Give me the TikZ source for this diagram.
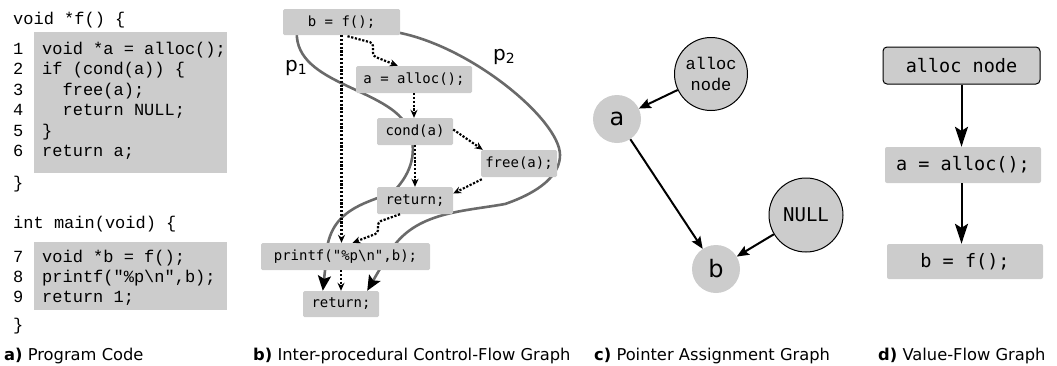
\documentclass[tikz,border=0pt]{standalone}
\usepackage{fontspec}
\setmainfont{DejaVu Sans}
\newfontfamily\codefont{Liberation Mono}
\newfontfamily\cfgmono{DejaVu Sans Mono}
\usetikzlibrary{arrows.meta,calc}
\pgfdeclarelayer{background}
\pgfsetlayers{background,main}
\definecolor{boxgray}{HTML}{CCCCCC}
\definecolor{pathgray}{HTML}{6A6A6A}
\begin{document}
\begin{tikzpicture}[x=1pt,y=-1pt,
  codeline/.style={anchor=base west, inner sep=0pt, font=\codefont\fontsize{17}{20}\selectfont},
  codebox/.style={fill=boxgray, draw=none, inner sep=0pt, anchor=north west},
  cfgbox/.style={fill=boxgray, rounded corners=1.5pt, inner sep=0pt, minimum height=27pt, font=\cfgmono\fontsize{14}{16}\selectfont},
  vfbox/.style={fill=boxgray, rounded corners=2pt, inner sep=0pt, minimum width=156pt, minimum height=36pt, font=\cfgmono\fontsize{18.5}{20}\selectfont},
  caption/.style={anchor=base west, inner sep=0pt, font=\fontsize{16.3}{18}\selectfont},
  dotarrow/.style={line width=2.2pt, dash pattern=on 2.2pt off 1.6pt, rounded corners=3pt, -{Stealth[length=8pt,width=7pt]}},
  pathcurve/.style={draw=pathgray, line width=2.6pt, -{Stealth[length=15pt,width=13pt,inset=3pt,color=black]}},
  pagcircle/.style={circle, fill=boxgray, inner sep=0pt},
  pagarrow/.style={line width=2pt, -{Stealth[length=12pt,width=10pt,inset=2pt]}},
  vfarrow/.style={line width=2pt, -{Stealth[length=20pt,width=13pt,inset=4pt]}},
  plabel/.style={anchor=base west, inner sep=0pt, font=\fontsize{20}{22}\selectfont}
]
\useasboundingbox (0,0) rectangle (1057,365);

% ---------- a) Program code ----------
\node[codebox, minimum width=193pt, minimum height=141pt] (fbody) at (34,32) {};
\node[codebox, minimum width=193pt, minimum height=68pt] (mbody) at (34,242) {};
\node[codeline] (fhead) at (13,24) {void *f() \{};
\node[codeline] (n1) at (13,54) {1};
\node[codeline] (l1) at (42,54) {void *a = alloc();};
\node[codeline] (n2) at (13,74.5) {2};
\node[codeline] (l2) at (42,74.5) {if (cond(a)) \{};
\node[codeline] (n3) at (13,95) {3};
\node[codeline] (l3) at (42,95) {\phantom{xx}free(a);};
\node[codeline] (n4) at (13,115.5) {4};
\node[codeline] (l4) at (42,115.5) {\phantom{xx}return NULL;};
\node[codeline] (n5) at (13,136) {5};
\node[codeline] (l5) at (42,136) {\}};
\node[codeline] (n6) at (13,156.5) {6};
\node[codeline] (l6) at (42,156.5) {return a;};
\node[codeline] (fend) at (13,188) {\}};
\node[codeline] (mhead) at (13,228) {int main(void) \{};
\node[codeline] (n7) at (13,262) {7};
\node[codeline] (l7) at (42,262) {void *b = f();};
\node[codeline] (n8) at (13,282) {8};
\node[codeline] (l8) at (42,282) {printf("\%p\textbackslash n",b);};
\node[codeline] (n9) at (13,302) {9};
\node[codeline] (l9) at (42,302) {return 1;};
\node[codeline] (mend) at (13,330) {\}};
\node[caption] (capa) at (4,360) {\textbf{a)} Program Code};

% ---------- b) ICFG ----------
\node[cfgbox, minimum width=117pt, minimum height=26pt] (bf) at (341.5,22) {b = f();};
\node[cfgbox, minimum width=116pt] (al) at (414,79.5) {a = alloc();};
\node[cfgbox, minimum width=76pt] (cd) at (415,131.5) {cond(a)};
\node[cfgbox, minimum width=76pt] (fr) at (519,163.5) {free(a);};
\node[cfgbox, minimum width=76pt] (r1) at (415,200.5) {return;};
\node[cfgbox, minimum width=169pt] (pf) at (345.5,256.5) {printf("\%p\textbackslash n",b);};
\node[cfgbox, minimum width=76pt, minimum height=26pt] (r2) at (341,304) {return;};

\begin{pgfonlayer}{background}
\draw[pathcurve] ($(bf.south west)+(14,-3)$)
   .. controls (295,85) and (390,88) .. (408,128)
   .. controls (418,150) and (412,172) .. (395,190)
   .. controls (380,201) and (337,203) .. (328,243)
   -- ($(r2.north west)+(20,0)$);
\draw[pathcurve] ($(bf.east)+(-5,10)$)
   .. controls (470,45) and (560,120) .. (560,155)
   .. controls (560,175) and (540,192) .. (505,204)
   .. controls (460,212) and (412,212) .. (388,255)
   -- ($(r2.north east)+(-12,0)$);
\end{pgfonlayer}

\draw[dotarrow] (bf.south) -- (bf.south |- pf.north);
\draw[dotarrow] ($(bf.south)+(6,1)$) -- (373,43) -- (373,56) -- ($(al.north west)+(42,0)$);
\draw[dotarrow] (al.south) -- (al.south |- cd.north);
\draw[dotarrow] ($(cd.east)+(0,-2)$) -- ($(fr.north west)+(2,0)$);
\draw[dotarrow] (cd.south) -- (r1.north);
\draw[dotarrow] ($(fr.south west)+(1,2)$) -- ($(r1.east)+(0,-7)$);
\draw[dotarrow] ($(r1.south)+(-15,0)$) -- (378,222) -- (378,233) -- ($(pf.north)+(7,0)$);
\draw[dotarrow] (r2.north |- pf.south) -- (r2.north);

\node[plabel] (p1) at (285,71) {p\textsubscript{1}};
\node[plabel] (p2) at (493,60) {p\textsubscript{2}};
\node[caption] (capb) at (253,360) {\textbf{b)} Inter-procedural Control-Flow Graph};

% ---------- c) Pointer assignment graph ----------
\node[pagcircle, draw=black, line width=1pt, minimum size=73pt, align=center,
      font=\codefont\fontsize{17}{21.5}\selectfont] (calloc) at (711,74) {alloc\\node};
\node[pagcircle, minimum size=48pt, font=\fontsize{24}{26}\selectfont] (ca) at (617,119) {a};
\node[pagcircle, minimum size=48pt, font=\fontsize{24}{26}\selectfont] (cb) at (716,269) {b};
\node[pagcircle, draw=black, line width=1pt, minimum size=74pt,
      font=\cfgmono\fontsize{19}{21}\selectfont] (cnull) at (806,215) {NULL};
\draw[pagarrow] (calloc) -- (ca);
\draw[pagarrow] (ca) -- (cb);
\draw[pagarrow] (cnull) -- (cb);
\node[caption] (capc) at (594,360) {\textbf{c)} Pointer Assignment Graph};

% ---------- d) Value-flow graph ----------
\node[vfbox, draw=black, line width=1pt, rounded corners=4pt, minimum width=157pt, minimum height=37pt] (dal) at (961.5,65.5) {alloc node};
\node[vfbox] (da) at (963,165) {a = alloc();};
\node[vfbox, minimum height=35pt] (db) at (965,261.5) {b = f();};
\draw[vfarrow] (dal.south) -- (dal.south |- da.north);
\draw[vfarrow] (dal.south |- da.south) -- (dal.south |- db.north);
\node[caption] (capd) at (878,360) {\textbf{d)} Value-Flow Graph};
\end{tikzpicture}
\end{document}
